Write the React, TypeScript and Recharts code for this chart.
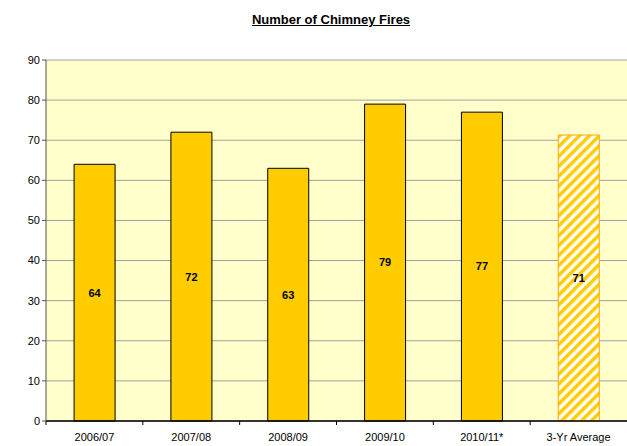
import { Bar, BarChart, CartesianGrid, Cell, LabelList, XAxis, YAxis } from 'recharts';

const seasons = ['2006/07', '2007/08', '2008/09', '2009/10', '2010/11*', '3-Yr Average'];
const fires = [64, 72, 63, 79, 77, 71.3];
const yTicks = [0, 10, 20, 30, 40, 50, 60, 70, 80, 90];

const chartData = seasons.map((name, i) => ({ name, fires: fires[i] }));

const font = "'Liberation Sans', Arial, sans-serif";

function SeasonTick(props: any) {
    const { x, y, payload } = props;
    const half = 581 / seasons.length / 2;
    return (
        <g>
            <line x1={x - half} y1={y - 8} x2={x - half} y2={y - 4} stroke="#000" />
            <text x={x} y={y + 12} textAnchor="middle" fontSize={11} fontFamily={font} fill="#000">
                {payload.value}
            </text>
        </g>
    );
}

export default function App() {
    return (
        <div style={{ position: 'absolute', left: 0, top: 0, width: 627, height: 446, background: '#fff' }}>
            <div
                style={{
                    position: 'absolute',
                    top: 12,
                    left: 0,
                    width: 662,
                    textAlign: 'center',
                    fontFamily: "'Liberation Sans Narrow', " + font,
                    fontWeight: 'bold',
                    fontSize: 13,
                    textDecoration: 'underline',
                    color: '#000',
                }}
            >
                Number of Chimney Fires
            </div>
            <BarChart
                width={627}
                height={446}
                data={chartData}
                margin={{ top: 60, right: 0, bottom: 0, left: 0 }}
                barCategoryGap="29%"
            >
                <defs>
                    <pattern id="hatch" width="7" height="7" patternUnits="userSpaceOnUse" patternTransform="rotate(45)">
                        <rect width="7" height="7" fill="#fff" />
                        <rect width="3.5" height="7" fill="#FFCC00" />
                    </pattern>
                </defs>
                <CartesianGrid vertical={false} stroke="#a0a0a0" fill="#FFFFCC" fillOpacity={1} />
                <XAxis
                    dataKey="name"
                    height={25}
                    tickLine={false}
                    axisLine={{ stroke: '#000', strokeWidth: 1.5 }}
                    tick={<SeasonTick />}
                    interval={0}
                />
                <YAxis
                    width={46}
                    domain={[0, 90]}
                    ticks={yTicks}
                    interval={0}
                    axisLine={{ stroke: '#555' }}
                    tickLine={{ stroke: '#555' }}
                    tickSize={4}
                    tick={{ fontSize: 11, fontFamily: font, fill: '#000' }}
                />
                <Bar dataKey="fires" isAnimationActive={false} stroke="#000" strokeWidth={1}>
                    {chartData.map((d, i) => (
                        <Cell
                            key={d.name}
                            fill={i === seasons.length - 1 ? 'url(#hatch)' : '#FFCC00'}
                            stroke={i === seasons.length - 1 ? '#FFA500' : '#000'}
                        />
                    ))}
                    <LabelList
                        dataKey="fires"
                        position="center"
                        formatter={(v: any) => Math.round(v)}
                        style={{ fontSize: 11, fontWeight: 'bold', fontFamily: font, fill: '#000' }}
                    />
                </Bar>
            </BarChart>
        </div>
    );
}
